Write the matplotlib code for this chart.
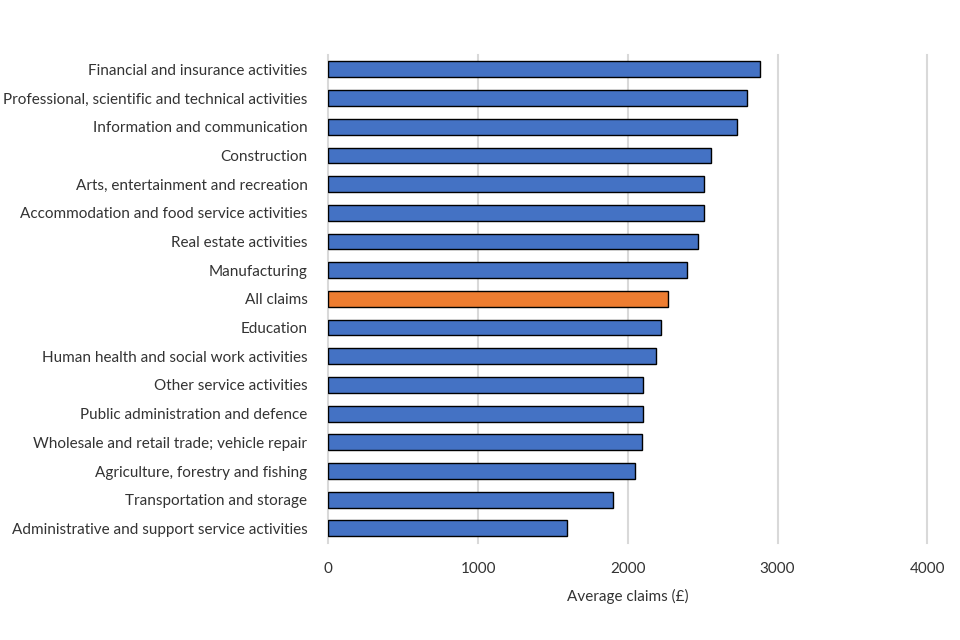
import matplotlib
matplotlib.use("Agg")
import matplotlib.pyplot as plt

categories = [
    "Financial and insurance activities",
    "Professional, scientific and technical activities",
    "Information and communication",
    "Construction",
    "Arts, entertainment and recreation",
    "Accommodation and food service activities",
    "Real estate activities",
    "Manufacturing",
    "All claims",
    "Education",
    "Human health and social work activities",
    "Other service activities",
    "Public administration and defence",
    "Wholesale and retail trade; vehicle repair",
    "Agriculture, forestry and fishing",
    "Transportation and storage",
    "Administrative and support service activities",
]
values = [2884, 2798, 2728, 2553, 2507, 2507, 2470, 2397, 2267, 2221, 2186,
          2103, 2103, 2092, 2045, 1898, 1596]
highlight = "All claims"
x_ticks = [0, 1000, 2000, 3000, 4000]
x_label = "Average claims (£)"

plt.rcParams['font.family'] = ['Lato', 'DejaVu Sans']
text_color = "#333333"

fig = plt.figure(figsize=(9.6, 6.4), dpi=100)
ax = fig.add_axes([0.342, 0.152, 0.624, 0.762])

n = len(categories)
ypos = list(range(n))[::-1]
colors = ["#ED7D31" if c == highlight else "#4472C4" for c in categories]
ax.barh(ypos, values, height=0.55, color=colors, edgecolor="black", linewidth=1.0, zorder=3)

ax.set_xlim(0, 4000)
ax.set_ylim(-0.5, n - 0.5)
ax.set_xticks(x_ticks)
ax.set_xticklabels([str(t) for t in x_ticks], fontsize=11, color=text_color)
ax.set_yticks(ypos)
ax.set_yticklabels(categories, fontsize=11, color=text_color)
ax.tick_params(axis='both', length=0)
ax.tick_params(axis='x', pad=14)
ax.tick_params(axis='y', pad=15)
ax.xaxis.grid(True, color="#D9D9D9", linewidth=1.5, zorder=0)
ax.yaxis.grid(False)
for gl in ax.get_xgridlines():
    gl.set_clip_on(False)
for s in ax.spines.values():
    s.set_visible(False)
ax.set_xlabel(x_label, fontsize=11, color=text_color, labelpad=9)

fig.savefig("out.png", dpi=100, facecolor="white")
